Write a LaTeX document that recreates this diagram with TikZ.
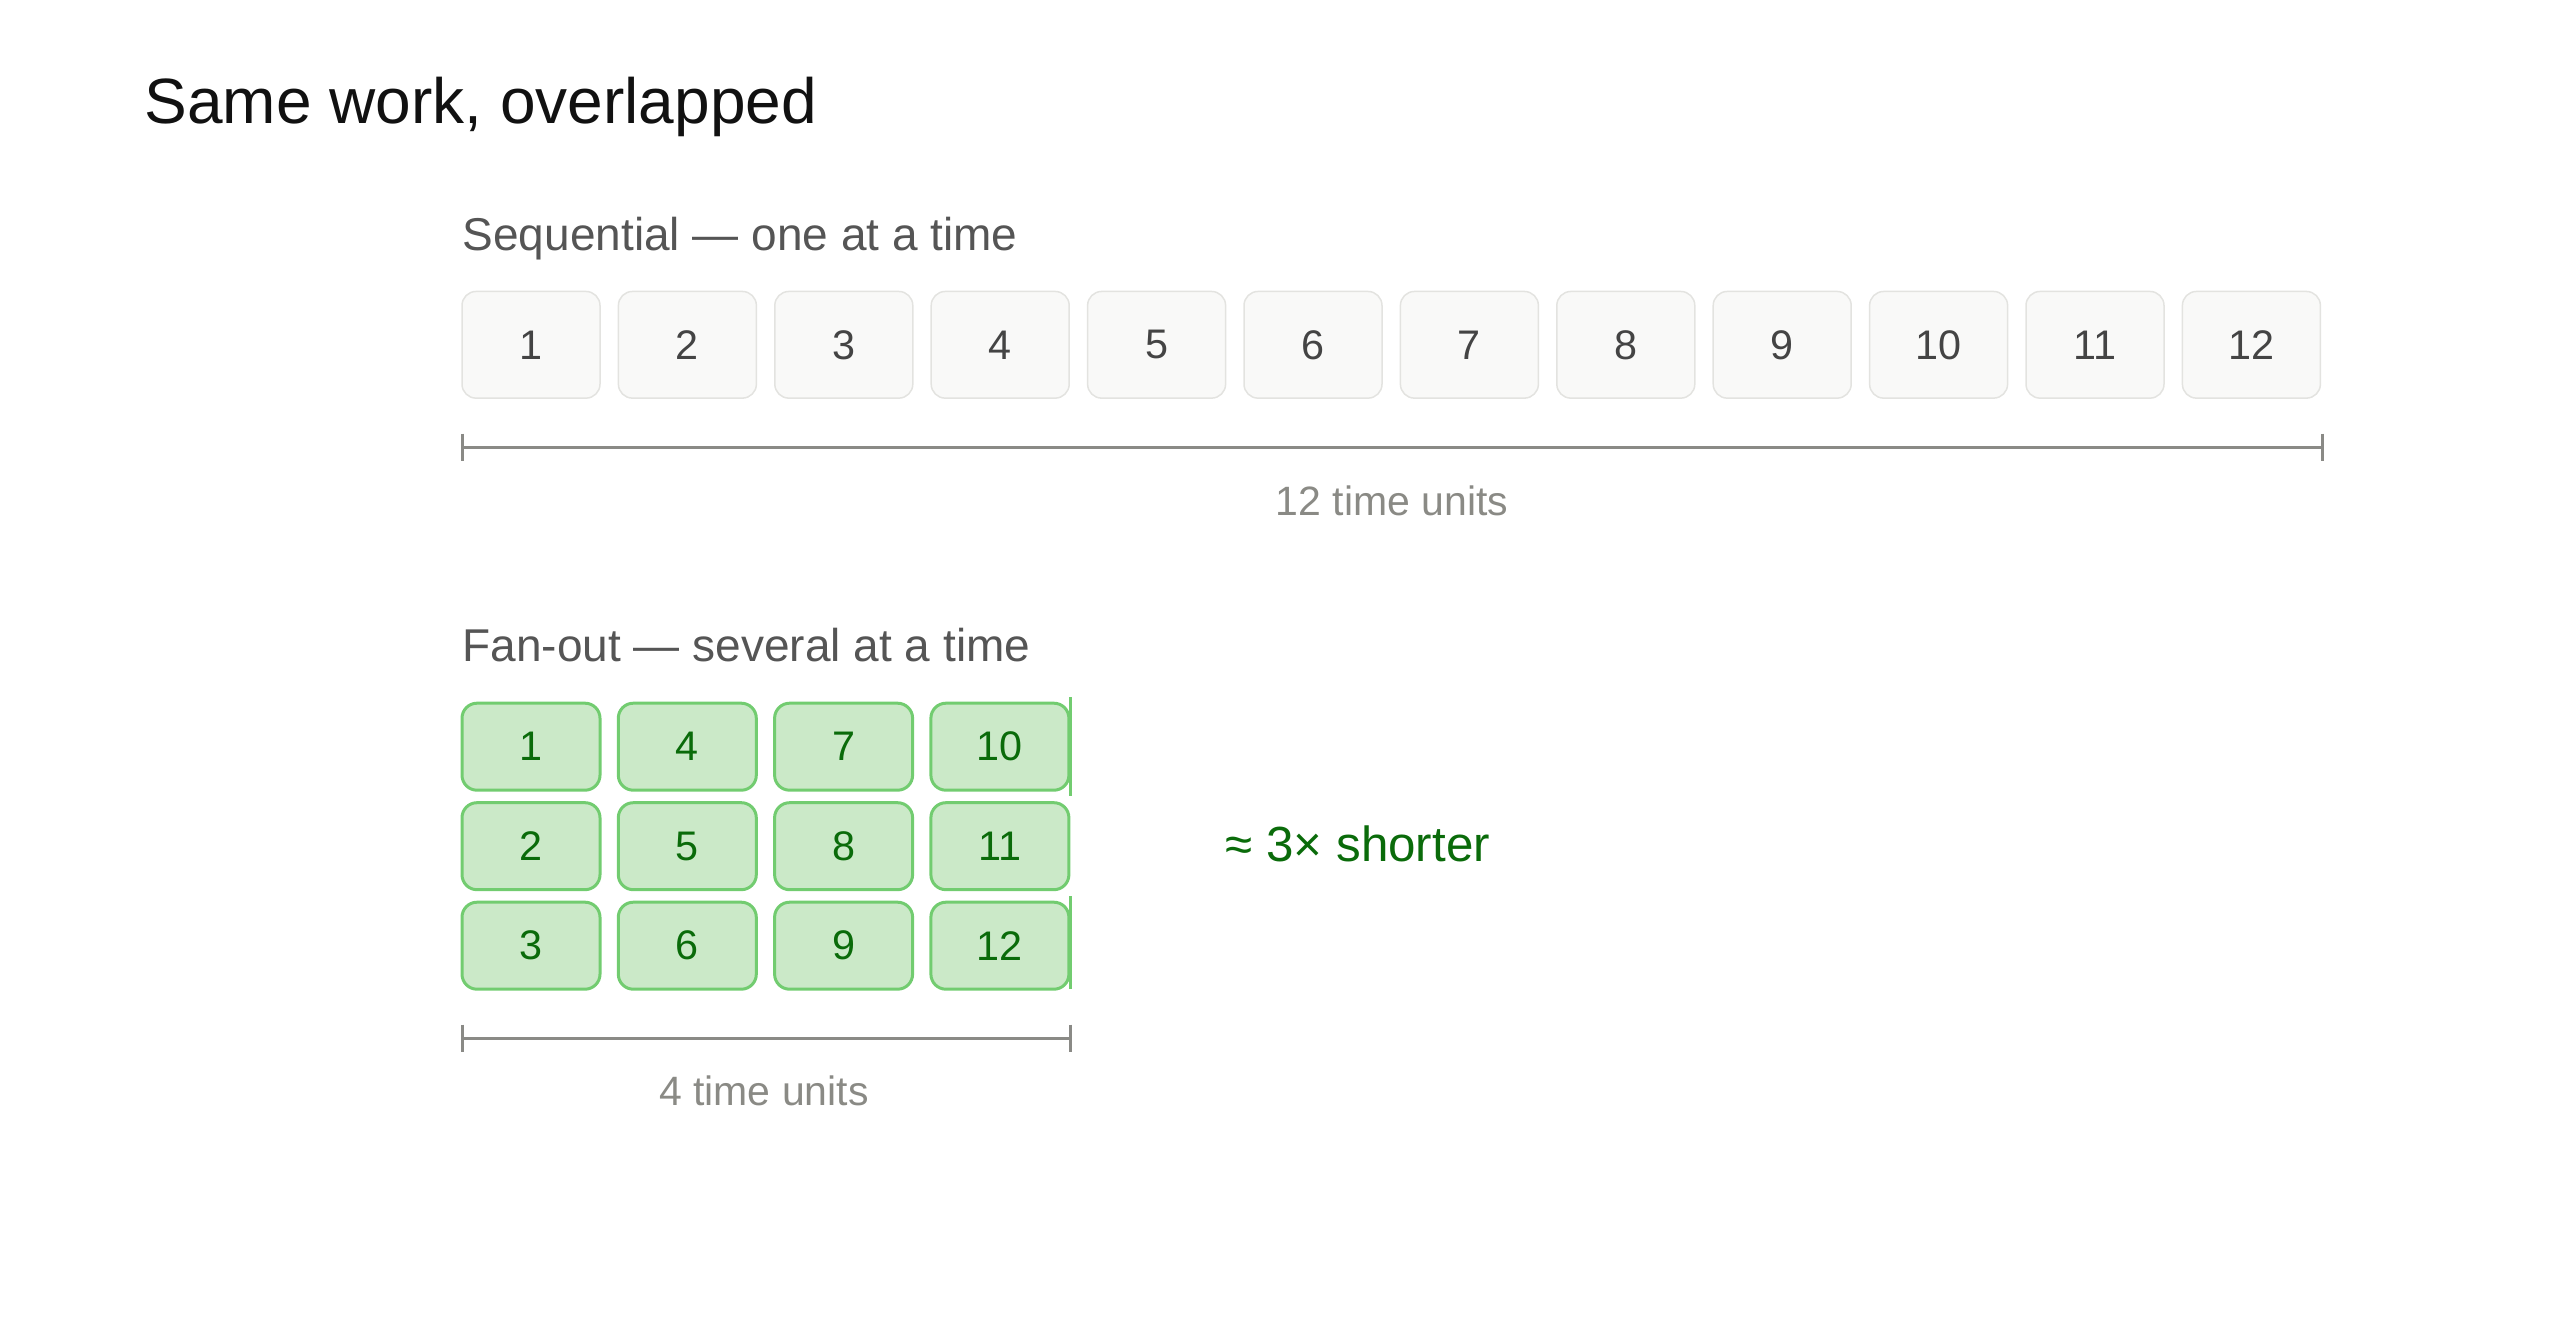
\documentclass[tikz,border=0pt]{standalone}
\usepackage{fontspec}
\setmainfont{Liberation Sans}
\usetikzlibrary{arrows.meta}
\definecolor{titlecol}{HTML}{111111}
\definecolor{subcol}{HTML}{555555}
\definecolor{seqtext}{HTML}{444444}
\definecolor{seqfill}{HTML}{F9F9F8}
\definecolor{seqdraw}{HTML}{E3E3E0}
\definecolor{brackcol}{HTML}{8A8A86}
\definecolor{labcol}{HTML}{8A8A85}
\definecolor{gfill}{HTML}{CBE9C8}
\definecolor{gdraw}{HTML}{72CC70}
\definecolor{gtext}{HTML}{0A6B0A}
\tikzset{
  seqbox/.style={draw=seqdraw, fill=seqfill, line width=0.45pt, rounded corners=4.2pt,
    minimum width=41.4pt, minimum height=32pt, inner sep=0pt, text=seqtext,
    font=\fontsize{12.4pt}{14pt}\selectfont},
  fanbox/.style={draw=gdraw, fill=gfill, line width=0.9pt, rounded corners=4.5pt,
    minimum width=41.4pt, minimum height=26.1pt, inner sep=0pt, text=gtext,
    font=\fontsize{12.4pt}{14pt}\selectfont},
  heading/.style={anchor=base west, inner sep=0pt, text=subcol, font=\fontsize{13.8pt}{16pt}\selectfont},
  bracket/.style={draw=brackcol, line width=0.9pt},
  unitlabel/.style={anchor=base, inner sep=0pt, text=labcol, font=\fontsize{12.3pt}{15pt}\selectfont},
}
\begin{document}
\begin{tikzpicture}[x=0.3pt,y=-0.3pt]
\useasboundingbox (0,0) rectangle (2560,1323);
% title
\node[anchor=base west, inner sep=0pt, text=titlecol, font=\fontsize{19.2pt}{23pt}\selectfont] (title) at (144,124) {Same work, overlapped};
% sequential
\node[heading] (seqhead) at (462,250) {Sequential — one at a time};
\foreach \i in {1,...,12} {
  \node[seqbox] (s\i) at ({531+156.4*(\i-1)},344.8) {\i};
}
\coordinate (sa) at (462,447);
\coordinate (sb) at (2322,447);
\draw[bracket] (sa) -- (sb);
\draw[bracket] ([yshift=13.5*0.3pt]sa) -- ([yshift=-13.5*0.3pt]sa);
\draw[bracket] ([yshift=13.5*0.3pt]sb) -- ([yshift=-13.5*0.3pt]sb);
\node[unitlabel] (seqlab) at (1392,515) {12 time units};
% fan-out
\node[heading] (fanhead) at (462,661) {Fan-out — several at a time};
\foreach \c in {0,1,2,3} {
  \foreach \r in {0,1,2} {
    \pgfmathtruncatemacro{\n}{3*\c+\r+1}
    \node[fanbox] (f\n) at ({531+156.3*\c},{746.7+99.5*\r}) {\n};
  }
}
\draw[draw=gdraw, line width=0.9pt] (1070,697) -- (1070,796);
\draw[draw=gdraw, line width=0.9pt] (1070,896) -- (1070,989);
\coordinate (fa) at (462,1038);
\coordinate (fb) at (1070,1038);
\draw[bracket] (fa) -- (fb);
\draw[bracket] ([yshift=13.5*0.3pt]fa) -- ([yshift=-13.5*0.3pt]fa);
\draw[bracket] ([yshift=13.5*0.3pt]fb) -- ([yshift=-13.5*0.3pt]fb);
\node[unitlabel] (fanlab) at (764,1105) {4 time units};
% ratio
\node[anchor=base west, inner sep=0pt, text=gtext, font=\fontsize{14.8pt}{17pt}\selectfont] (ratio) at (1225,861) {≈ 3× shorter};
\end{tikzpicture}
\end{document}
